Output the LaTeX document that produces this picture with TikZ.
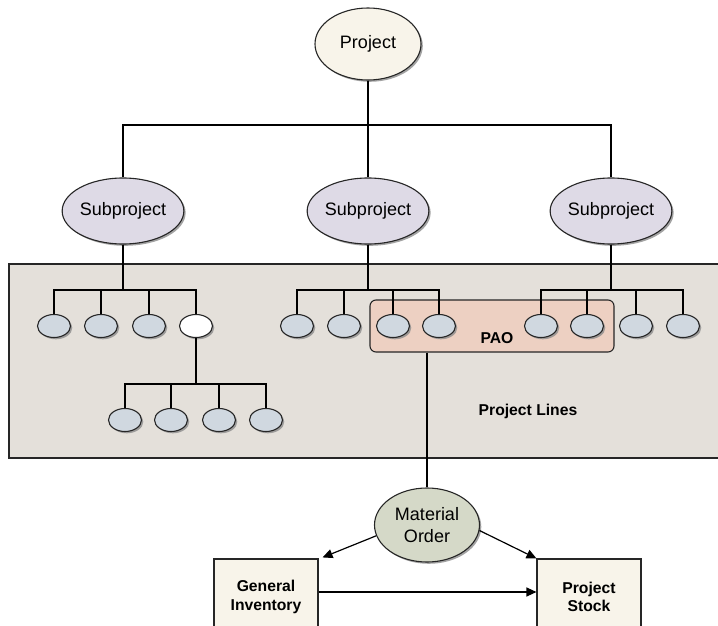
\documentclass[tikz,border=0pt]{standalone}
\usepackage{fontspec}
\setmainfont{Liberation Sans}
\usetikzlibrary{shapes.geometric,shadows,arrows.meta,calc}
\definecolor{projfill}{HTML}{F8F4EA}
\definecolor{subfill}{HTML}{DEDAE6}
\definecolor{leaffill}{HTML}{D0D8E0}
\definecolor{areafill}{HTML}{E4E0DA}
\definecolor{paofill}{HTML}{EDD0C2}
\definecolor{mofill}{HTML}{D5D9C8}
\definecolor{boxfill}{HTML}{F8F4EA}
\tikzset{
  shad/.style={drop shadow={shadow xshift=1.8pt,shadow yshift=-1.8pt,fill=black!45,opacity=0.8}},
  bigell/.style={ellipse,draw=black!85,line width=1.1pt,inner sep=0pt,shad,
     font=\fontsize{18}{21.6}\selectfont,align=center},
  leaf/.style={ellipse,draw=black!85,line width=1.1pt,fill=leaffill,inner sep=0pt,
     minimum width=33pt,minimum height=23pt,shad},
  invbox/.style={rectangle,draw=black!85,line width=1.1pt,fill=boxfill,
     minimum width=104pt,minimum height=76pt,align=center,
     font=\fontsize{15.7}{18.5}\selectfont\bfseries},
  conn/.style={line width=1.2pt,draw=black},
  arr/.style={line width=1.2pt,draw=black,-{Triangle[length=10pt,width=9pt]}},
  lbl/.style={font=\fontsize{15.7}{18.5}\selectfont\bfseries}
}
\begin{document}
\begin{tikzpicture}[x=1pt,y=-1pt]
\useasboundingbox (0,0) rectangle (718,626);
\clip (0,0) rectangle (718,626);
\fill[white] (0,0) rectangle (718,626);
% project lines area
\draw[fill=areafill,draw=black!85,line width=1.1pt] (9,264) rectangle (740,458);
\node[lbl] (pl) at (528,411) {Project Lines};
% PAO
\node[rectangle,rounded corners=6pt,draw=black!85,line width=1.1pt,fill=paofill,
  minimum width=244pt,minimum height=52pt] (pao) at (492,326) {};
\node[lbl] (paolbl) at (497,338) {PAO};
% top
\node[bigell,fill=projfill,minimum width=106pt,minimum height=72pt] (proj) at (368,44) {Project};
\node[bigell,fill=subfill,minimum width=106pt,minimum height=66pt] (s1) at (123,211) {Subproject};
\node[bigell,fill=subfill,minimum width=106pt,minimum height=66pt] (s2) at (368,211) {Subproject};
\node[bigell,fill=subfill,minimum width=106pt,minimum height=66pt] (s3) at (611,211) {Subproject};
\coordinate (topbar) at (368,125);
\draw[conn] (proj.south) -- (topbar);
\draw[conn] (topbar) -| (s1.north);
\draw[conn] (topbar) -| (s3.north);
\draw[conn] (topbar) -- (s2.north);
% leaves
\coordinate (bar) at (0,290);
\coordinate (bar2) at (0,384);
\foreach \n/\x in {a1/54,a2/101,a3/149,b1/297,b2/344,b3/393,b4/439,c1/541,c2/587,c3/636,c4/683}{
  \node[leaf] (\n) at (\x,326) {};
}
\node[leaf,fill=white] (a4) at (196,326) {};
\foreach \n/\x in {d1/125,d2/171,d3/219,d4/266}{
  \node[leaf] (\n) at (\x,420) {};
}
\foreach \n in {a1,a2,a3,a4}{\draw[conn] (s1.south) -- (s1.south |- bar) -| (\n.north);}
\foreach \n in {b1,b2,b3,b4}{\draw[conn] (s2.south) -- (s2.south |- bar) -| (\n.north);}
\foreach \n in {c1,c2,c3,c4}{\draw[conn] (s3.south) -- (s3.south |- bar) -| (\n.north);}
\foreach \n in {d1,d2,d3,d4}{\draw[conn] (a4.south) -- (a4.south |- bar2) -| (\n.north);}
% material order
\node[bigell,fill=mofill,minimum width=105pt,minimum height=74pt] (mo) at (427,525) {Material\\Order};
\draw[conn] (pao.south -| mo.north) -- (mo.north);
\node[invbox] (gi) at (266,597) {General\\Inventory};
\node[invbox] (ps) at (589,597) {Project\\Stock};
\draw[arr] (mo.192) -- ($(gi.north east)+(4,-1)$);
\draw[arr] (mo.-6) -- (ps.north west);
\draw[arr] (gi.east |- 0,592) -- (ps.west |- 0,592);
\end{tikzpicture}
\end{document}
